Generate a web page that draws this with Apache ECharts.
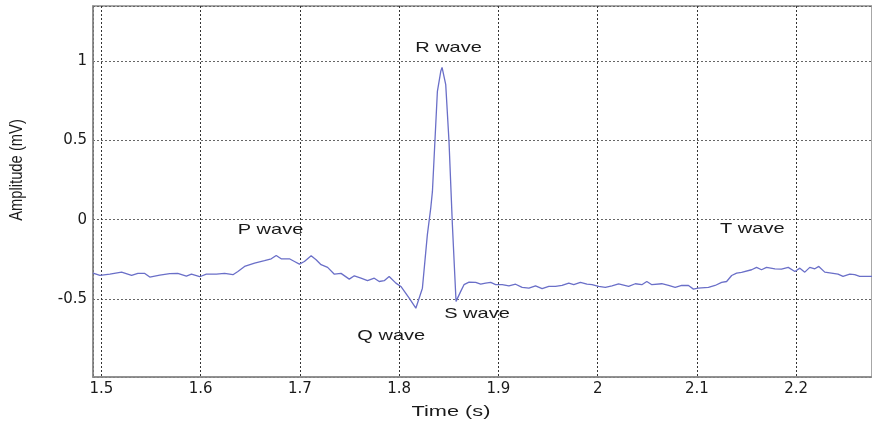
<!DOCTYPE html>
<html>
<head>
<meta charset="utf-8">
<script src="https://cdn.jsdelivr.net/npm/echarts@6/dist/echarts.min.js"></script>
<style>
html,body{margin:0;padding:0;background:#fff;}
#chart{width:872px;height:429px;}
</style>
</head>
<body>
<div id="chart"></div>
<script>
// Time (s)
var times = [1.4915,1.4985,1.5085,1.5203,1.5304,1.5367,1.5437,1.5487,1.5588,1.5688,1.5769,1.5856,1.5907,1.5990,1.6057,1.6158,1.6241,1.6325,1.6375,1.6442,1.6543,1.6643,1.6711,1.6761,1.6811,1.6894,1.6945,1.6995,1.7045,1.7113,1.7163,1.7213,1.7279,1.7347,1.7414,1.7497,1.7548,1.7615,1.7681,1.7749,1.7799,1.7849,1.7899,1.7967,1.8017,1.8101,1.8168,1.8186,1.8234,1.8284,1.8318,1.8335,1.8385,1.8419,1.8432,1.8469,1.8502,1.8536,1.8560,1.8573,1.8620,1.8653,1.8704,1.8771,1.8821,1.8871,1.8922,1.8972,1.9038,1.9106,1.9173,1.9239,1.9307,1.9374,1.9440,1.9508,1.9575,1.9641,1.9709,1.9759,1.9826,1.9892,1.9943,2.0010,2.0077,2.0144,2.0211,2.0312,2.0379,2.0445,2.0495,2.0546,2.0646,2.0714,2.0781,2.0847,2.0915,2.0965,2.1010,2.1116,2.1183,2.1249,2.1299,2.1350,2.1400,2.1450,2.1551,2.1601,2.1651,2.1701,2.1786,2.1852,2.1920,2.1987,2.2037,2.2087,2.2137,2.2188,2.2228,2.2288,2.2355,2.2422,2.2472,2.2540,2.2590,2.2640,2.2764];
// Amplitude (mV)
var amplitude = [-0.336,-0.351,-0.343,-0.330,-0.351,-0.338,-0.338,-0.361,-0.349,-0.340,-0.338,-0.355,-0.343,-0.359,-0.343,-0.343,-0.338,-0.346,-0.326,-0.294,-0.273,-0.258,-0.246,-0.225,-0.246,-0.246,-0.263,-0.280,-0.263,-0.227,-0.252,-0.283,-0.300,-0.343,-0.338,-0.374,-0.353,-0.368,-0.384,-0.368,-0.389,-0.384,-0.357,-0.399,-0.420,-0.494,-0.557,-0.567,-0.431,-0.094,0.073,0.178,0.808,0.934,0.959,0.850,0.493,-0.031,-0.346,-0.514,-0.451,-0.409,-0.393,-0.395,-0.406,-0.399,-0.395,-0.409,-0.409,-0.416,-0.406,-0.426,-0.431,-0.416,-0.434,-0.420,-0.420,-0.414,-0.399,-0.409,-0.395,-0.406,-0.409,-0.420,-0.426,-0.416,-0.404,-0.420,-0.403,-0.409,-0.389,-0.409,-0.403,-0.414,-0.426,-0.414,-0.414,-0.437,-0.431,-0.426,-0.414,-0.395,-0.389,-0.351,-0.336,-0.332,-0.315,-0.300,-0.315,-0.300,-0.309,-0.311,-0.300,-0.326,-0.305,-0.330,-0.300,-0.309,-0.294,-0.330,-0.336,-0.343,-0.357,-0.343,-0.346,-0.357,-0.357];
// Wave annotations (text placed at these data coordinates)
var annotationNames = ['P wave','Q wave','R wave','S wave','T wave'];
var annotationTimes = [1.6703,1.7920,1.8497,1.8784,2.1558];
var annotationAmps = [-0.067,-0.735,1.079,-0.596,-0.061];
// Axis ranges and titles
var xRange = [1.4915, 2.2764];
var yRange = [-0.99, 1.345];
var xTitle = 'Time (s)';
var yTitle = 'Amplitude (mV)';

var pairs = times.map(function(t,i){return [t, amplitude[i]];});

var chart = echarts.init(document.getElementById('chart'), null, {renderer:'canvas'});
var font = '"Liberation Sans", Arial, Helvetica, sans-serif';
var tickFont = '"DejaVu Sans", "Liberation Sans", sans-serif';
function fmt(v){return String(Math.round(v*10)/10);}
chart.setOption({
  animation:false,
  backgroundColor:'#ffffff',
  grid:{left:93, top:6, right:-2, bottom:52, show:true, borderColor:'#8a8a8a', borderWidth:1.5, containLabel:false},
  xAxis:{
    type:'value', min:xRange[0], max:xRange[1], splitNumber:8,
    axisLine:{show:true, onZero:false, lineStyle:{color:'#8a8a8a', width:1.5}},
    axisTick:{show:false},
    axisLabel:{showMinLabel:false, showMaxLabel:false, color:'#1a1a1a', fontFamily:tickFont, fontSize:15, margin:5, formatter:fmt},
    splitLine:{show:true, lineStyle:{color:'#333', type:[2,2], width:1}}
  },
  yAxis:{
    type:'value', min:yRange[0], max:yRange[1], splitNumber:5,
    axisLine:{show:true, lineStyle:{color:'#8a8a8a', width:1.5}},
    axisTick:{show:false},
    axisLabel:{showMinLabel:false, showMaxLabel:false, color:'#1a1a1a', fontFamily:tickFont, fontSize:15, margin:6, formatter:fmt},
    splitLine:{show:true, lineStyle:{color:'#666', type:[2,2], width:1}}
  },
  series:[{
    type:'line', data:pairs, showSymbol:false, smooth:false,
    lineStyle:{color:'#6a6fc8', width:1.3}
  }]
});

var graphics = [
  {type:'text', id:'ytitle', x:17, y:170, rotation:Math.PI/2, scaleX:0.82,
   style:{text:yTitle, fill:'#1a1a1a', font:'18px '+font, textAlign:'center', textVerticalAlign:'middle'}},
  {type:'text', id:'xtitle', x:451, y:412, scaleX:1.45,
   style:{text:xTitle, fill:'#1a1a1a', font:'15px '+font, textAlign:'center', textVerticalAlign:'middle'}}
];
annotationNames.forEach(function(n,i){
  var p = chart.convertToPixel({gridIndex:0}, [annotationTimes[i], annotationAmps[i]]);
  graphics.push({type:'text', id:'ann'+i, x:p[0], y:p[1], scaleX:1.38,
    style:{text:n, fill:'#1a1a1a', font:'14.5px '+font, textAlign:'center', textVerticalAlign:'middle'}});
});
chart.setOption({graphic:graphics});
</script>
</body>
</html>
